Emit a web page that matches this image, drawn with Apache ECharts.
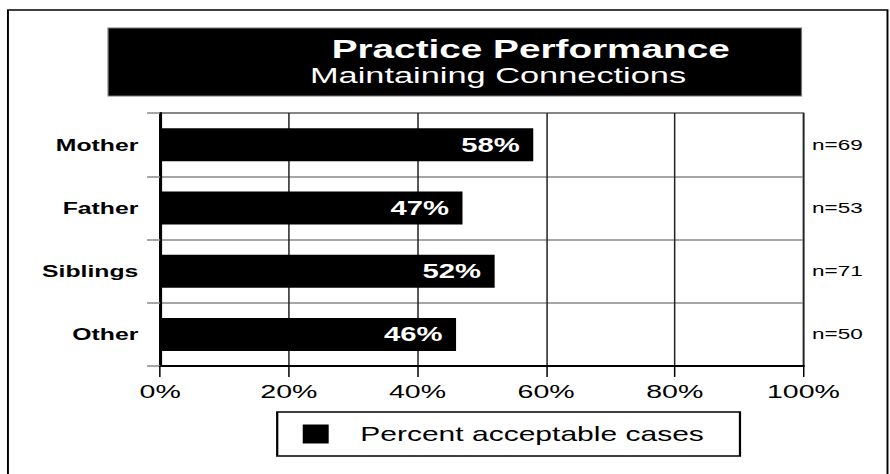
<!DOCTYPE html>
<html>
<head>
<meta charset="utf-8">
<script src="https://cdn.jsdelivr.net/npm/echarts@6/dist/echarts.min.js"></script>
<style>
  html, body { margin: 0; padding: 0; background: #ffffff; overflow: hidden; }
  #wrap { width: 890px; height: 474px; overflow: hidden; position: relative; }
  #chart { width: 593px; height: 474px; transform: scaleX(1.5009); transform-origin: 0 0; }
</style>
</head>
<body>
<div id="wrap"><div id="chart"></div></div>
<script>
// ---- data ----
const categories = ['Mother', 'Father', 'Siblings', 'Other'];
const percentAcceptable = [58, 47, 52, 46];
const sampleSizes = ['n=69', 'n=53', 'n=71', 'n=50'];
const seriesName = 'Percent acceptable cases';
const titleText = 'Practice Performance';
const subtitleText = 'Maintaining Connections';

const FONT = '"Liberation Sans", Arial, sans-serif';
const chart = echarts.init(document.getElementById('chart'), null, { renderer: 'svg' });

chart.setOption({
  animation: false,
  backgroundColor: '#ffffff',
  textStyle: { fontFamily: FONT },
  graphic: [
    { type: 'rect', z: 0, shape: { x: 5.3, y: 10, width: 586, height: 480 },
      style: { fill: 'none', stroke: '#000', lineWidth: 1.3 } },
    { type: 'rect', z: 1, shape: { x: 72, y: 28, width: 462, height: 68 },
      style: { fill: '#000', stroke: '#777', lineWidth: 0.8 } }
  ],
  title: [
    { text: titleText, left: 221, top: 35.5, padding: 0, z: 10,
      textStyle: { color: '#fff', fontSize: 25.8, fontWeight: 'bold', fontFamily: FONT } },
    { text: subtitleText, left: 206.5, top: 63.5, padding: 0, z: 10,
      textStyle: { color: '#fff', fontSize: 22.9, fontWeight: 'normal', fontFamily: FONT } }
  ],
  legend: {
    data: [seriesName],
    left: 184.7, top: 412,
    orient: 'horizontal',
    icon: 'rect',
    itemWidth: 17.3, itemHeight: 19,
    borderColor: '#000', borderWidth: 1.5,
    padding: [12, 24, 12, 17],
    textStyle: { color: '#000', fontSize: 20, fontFamily: FONT, padding: [0, 0, 0, 16] }
  },
  grid: {
    left: 106.7, right: 57.7, top: 113, bottom: 108,
    show: true, borderColor: '#000', borderWidth: 1, backgroundColor: 'transparent'
  },
  xAxis: {
    type: 'value', min: 0, max: 100, interval: 20,
    axisLine: { show: true, lineStyle: { color: '#000', width: 2 } },
    axisTick: { show: true, length: 11, lineStyle: { color: '#000', width: 1 } },
    splitLine: { show: true, lineStyle: { color: '#222', width: 1 } },
    axisLabel: { formatter: '{value}%', color: '#000', fontSize: 19, margin: 16, fontFamily: FONT }
  },
  yAxis: [
    {
      type: 'category', data: categories, inverse: true,
      axisLine: { show: true, lineStyle: { color: '#000', width: 2 } },
      axisTick: { show: true, length: 8.7, lineStyle: { color: '#888', width: 1.5 } },
      splitLine: { show: true, lineStyle: { color: '#888', width: 1.5 } },
      axisLabel: { color: '#000', fontSize: 16.5, fontWeight: 'bold', margin: 14.5, fontFamily: FONT }
    },
    {
      type: 'category', data: sampleSizes, inverse: true, position: 'right',
      axisLine: { show: false }, axisTick: { show: false }, splitLine: { show: false },
      axisLabel: { color: '#000', fontSize: 15, margin: 5.7, fontFamily: FONT }
    }
  ],
  series: [{
    name: seriesName,
    type: 'bar',
    yAxisIndex: 0,
    data: percentAcceptable,
    barWidth: 33,
    itemStyle: { color: '#000' },
    label: {
      show: true, position: 'insideRight', distance: 9,
      formatter: '{c}%', color: '#fff', fontWeight: 'bold', fontSize: 19.5, fontFamily: FONT
    }
  }]
});
</script>
</body>
</html>
